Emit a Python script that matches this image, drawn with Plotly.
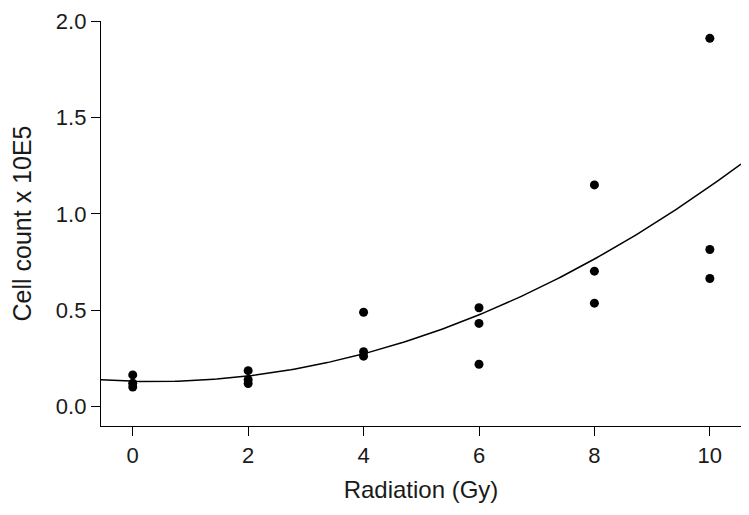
import numpy as np
import plotly.graph_objects as go

# Data
dose_x = [0, 0, 0, 2, 2, 2, 4, 4, 4, 6, 6, 6, 8, 8, 8, 10, 10, 10]
cell_count = [0.165, 0.122, 0.102, 0.187, 0.140, 0.120,
              0.490, 0.285, 0.262, 0.513, 0.432, 0.220,
              1.150, 0.703, 0.537, 1.910, 0.815, 0.665]

# Quadratic trend line coefficients
fit_a, fit_b, fit_c = 0.132, -0.008, 0.0109

x_tick_vals = [0, 2, 4, 6, 8, 10, 10.54]
x_tick_text = ["0", "2", "4", "6", "8", "10", ""]
y_tick_vals = [0.0, 0.5, 1.0, 1.5, 2.0]
y_tick_text = ["0.0", "0.5", "1.0", "1.5", "2.0"]

x_range = [-0.55, 10.54]
y_range = [-0.1, 2.0]

xs = np.linspace(x_range[0], x_range[1], 200)
ys = fit_a + fit_b * xs + fit_c * xs ** 2

fig = go.Figure()
fig.add_trace(go.Scatter(x=xs, y=ys, mode="lines",
                         line=dict(color="black", width=1.5),
                         showlegend=False, hoverinfo="skip"))
fig.add_trace(go.Scatter(x=dose_x, y=cell_count, mode="markers",
                         marker=dict(color="black", size=9),
                         showlegend=False))

fam = "Liberation Sans, Arial, sans-serif"
tick_font = dict(family=fam, size=22, color="#1a1a1a")
fig.update_layout(
    width=749, height=515,
    margin=dict(l=93, r=16, t=13, b=97),
    paper_bgcolor="white", plot_bgcolor="white",
    font=dict(family=fam, color="#1a1a1a"),
    xaxis=dict(range=x_range, tickvals=x_tick_vals, ticktext=x_tick_text,
               automargin=False, ticklabeloverflow="allow",
               showline=True, linecolor="black", linewidth=1.3,
               ticks="outside", ticklen=9, tickwidth=1.3, tickcolor="black",
               showgrid=False, zeroline=False, tickfont=tick_font,
               title=dict(text="Radiation (Gy)",
                          font=dict(family=fam, size=24, color="#1a1a1a"),
                          standoff=14)),
    yaxis=dict(range=y_range, tickvals=y_tick_vals, ticktext=y_tick_text,
               automargin=False, ticklabeloverflow="allow",
               showline=True, linecolor="black", linewidth=1.3,
               ticks="outside", ticklen=9, tickwidth=1.3, tickcolor="black",
               showgrid=False, zeroline=False, tickfont=tick_font,
               title=dict(text="Cell count x 10E5",
                          font=dict(family=fam, size=25, color="#1a1a1a"),
                          standoff=20)),
)

fig.write_html("out.html")
